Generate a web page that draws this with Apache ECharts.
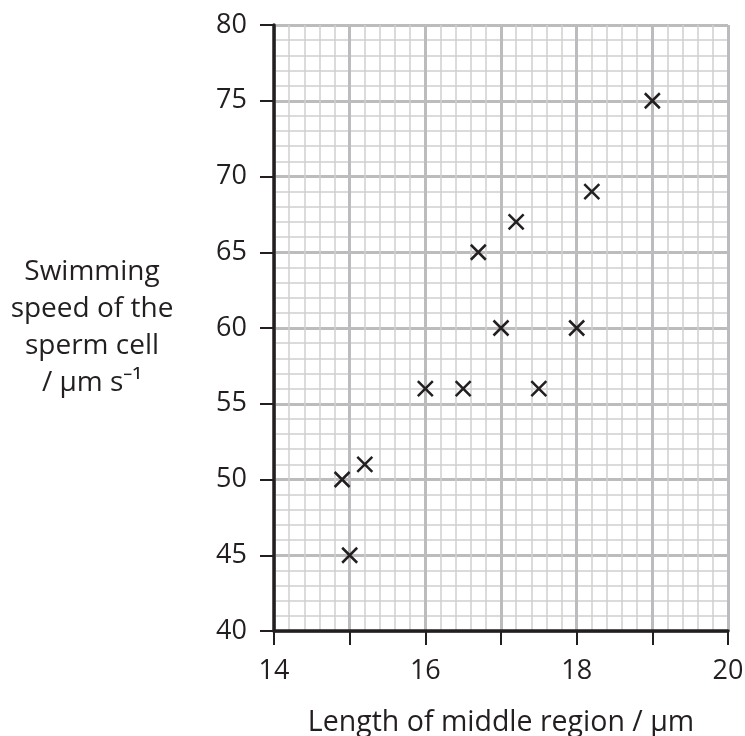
<!DOCTYPE html>
<html>
<head>
<meta charset="utf-8">
<script src="https://cdn.jsdelivr.net/npm/echarts@6/dist/echarts.min.js"></script>
<style>html,body{margin:0;padding:0;background:#fff;}#c{width:745px;height:736px;}</style>
</head>
<body>
<div id="c"></div>
<script>
// Data
var lengthUm = [14.9, 15.2, 15.0, 16.0, 16.5, 17.5, 16.7, 17.0, 17.2, 18.0, 18.2, 19.0];
var speed    = [50,   51,   45,   56,   56,   56,   65,   60,   67,   60,   69,   75];
var xTickLabels = [14, 16, 18, 20];
var yTickLabels = [40, 45, 50, 55, 60, 65, 70, 75, 80];
var xTitle = 'Length of middle region / \u03bcm';
var yTitle = 'Swimming\nspeed of the\nsperm cell\n/ \u03bcm s\u207b\u00b9';

var FONT = '"Open Sans", sans-serif';
var INK = '#231f20';
var points = lengthUm.map(function (x, i) { return [x, speed[i]]; });

var chart = echarts.init(document.getElementById('c'), null, {renderer: 'canvas'});
chart.setOption({
  animation: false,
  backgroundColor: '#ffffff',
  grid: {left: 274, right: 17, top: 25, bottom: 105, containLabel: false, outerBoundsMode: 'none'},
  xAxis: {
    type: 'value', min: 14, max: 20, interval: 1,
    name: xTitle, nameLocation: 'middle', nameGap: 92,
    nameTextStyle: {fontFamily: FONT, fontSize: 28.5, color: INK, align: 'center', verticalAlign: 'middle'},
    axisLine: {show: true, onZero: false, lineStyle: {color: INK, width: 3.5}},
    axisTick: {show: true, inside: false, length: 14, lineStyle: {color: INK, width: 2}},
    axisLabel: {
      margin: 27, fontFamily: FONT, fontSize: 27, color: INK,
      formatter: function (v) { return xTickLabels.indexOf(v) >= 0 ? String(v) : ''; }
    },
    splitLine: {show: true, lineStyle: {color: '#bcbcbe', width: 3}},
    minorTick: {show: false, splitNumber: 5},
    minorSplitLine: {show: true, lineStyle: {color: '#cfcfd1', width: 1.5}}
  },
  yAxis: {
    type: 'value', min: 40, max: 80, interval: 5,
    name: yTitle, nameLocation: 'middle', nameGap: 182, nameRotate: 0,
    nameTextStyle: {fontFamily: FONT, fontSize: 28, lineHeight: 37, color: INK, align: 'center', verticalAlign: 'middle', padding: [6, 0, 0, 0]},
    axisLine: {show: true, onZero: false, lineStyle: {color: INK, width: 3.5}},
    axisTick: {show: true, inside: false, length: 14, lineStyle: {color: INK, width: 2}},
    axisLabel: {
      margin: 27, fontFamily: FONT, fontSize: 27, color: INK,
      formatter: function (v) { return yTickLabels.indexOf(v) >= 0 ? String(v) : ''; }
    },
    splitLine: {show: true, lineStyle: {color: '#bcbcbe', width: 3}},
    minorTick: {show: false, splitNumber: 5},
    minorSplitLine: {show: true, lineStyle: {color: '#cfcfd1', width: 1.5}}
  },
  series: [{
    type: 'scatter',
    data: points,
    symbol: 'path://M0,0L10,10M10,0L0,10',
    symbolSize: 15,
    itemStyle: {color: 'rgba(0,0,0,0)', borderColor: INK, borderWidth: 2.5, opacity: 1},
    z: 5
  }]
});
</script>
</body>
</html>
